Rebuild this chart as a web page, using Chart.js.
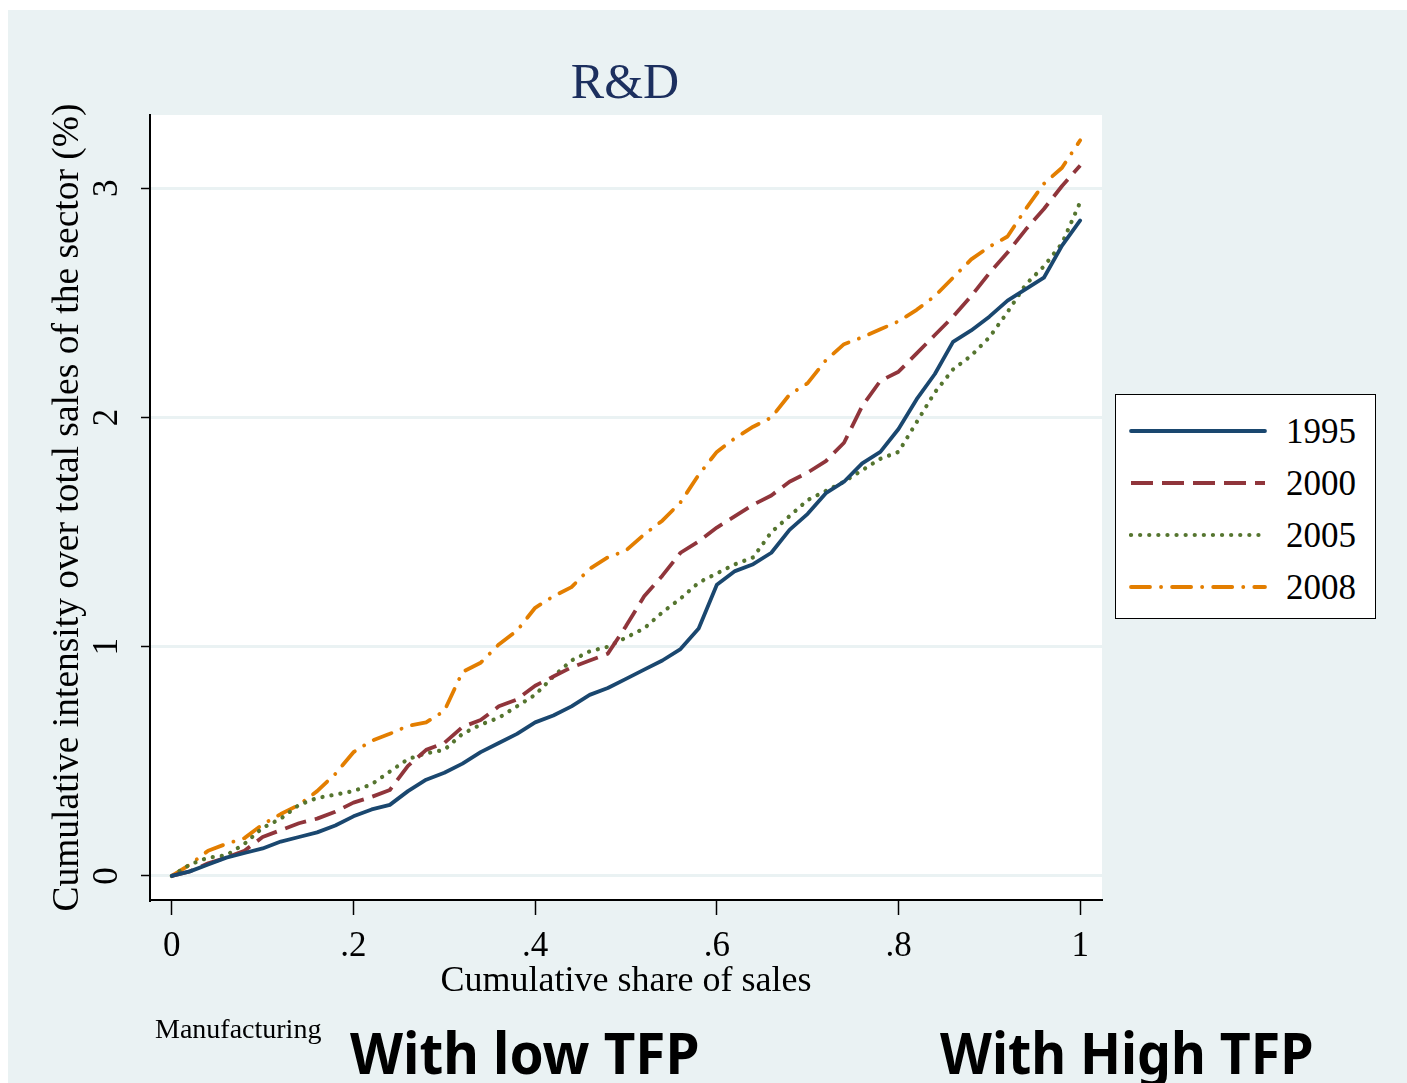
<!DOCTYPE html>
<html>
<head>
<meta charset="utf-8">
<title>R&amp;D</title>
<script src="https://cdn.jsdelivr.net/npm/chart.js@4.4.1/dist/chart.umd.min.js"></script>
<style>
  html, body { margin: 0; padding: 0; background: #fff; }
  #wrap { position: relative; width: 1407px; height: 1083px; overflow: hidden; }
  #chart { position: absolute; left: 0; top: 0; }
  .serif { font-family: 'Liberation Serif', 'Times New Roman', serif; }
  #title { position: absolute; left: 0; width: 1250px; top: 56px; text-align: center;
           font-size: 50px; line-height: 1; color: #1c2f5e; }
  #legend { position: absolute; left: 1115px; top: 394px; width: 259px; height: 223px;
            border: 1.5px solid #000; background: #fff; }
  #legend .row { position: absolute; left: 0; height: 40px; display: flex; align-items: center; }
  #legend svg { margin-left: 13px; }
  #legend span { margin-left: 19px; font-size: 35px; line-height: 1; color: #000; }
  .note { position: absolute; line-height: 1; color: #000; white-space: nowrap; }
  #manu { left: 155px; top: 1015px; font-size: 28px; }
  .big { font-family: 'Noto Sans', 'Open Sans', sans-serif; font-weight: 700; font-size: 58px;
         top: 1023px; transform-origin: left top; }
  #low { left: 350px; transform: scaleX(0.945); }
  #high { left: 940px; transform: scaleX(0.925); }
</style>
</head>
<body>
<div id="wrap">
  <canvas id="chart" width="1407" height="1083"></canvas>
  <div id="title" class="serif">R&amp;D</div>
  <div id="legend" class="serif"></div>
  <div id="manu" class="note serif">Manufacturing</div>
  <div id="low" class="note big">With low TFP</div>
  <div id="high" class="note big">With High TFP</div>
</div>
<script>
// cumulative share of sales (x)
const shares = [0, 0.02, 0.04, 0.06, 0.08, 0.10, 0.12, 0.14, 0.16, 0.18,
  0.20, 0.22, 0.24, 0.26, 0.28, 0.30, 0.32, 0.34, 0.36, 0.38,
  0.40, 0.42, 0.44, 0.46, 0.48, 0.50, 0.52, 0.54, 0.56, 0.58,
  0.60, 0.62, 0.64, 0.66, 0.68, 0.70, 0.72, 0.74, 0.76, 0.78,
  0.80, 0.82, 0.84, 0.86, 0.88, 0.90, 0.92, 0.94, 0.96, 0.98, 1.00];

// cumulative R&D intensity (%) per year
const y1995 = [0, 0.02, 0.05, 0.08, 0.10, 0.12, 0.15, 0.17, 0.19, 0.22,
  0.26, 0.29, 0.31, 0.37, 0.42, 0.45, 0.49, 0.54, 0.58, 0.62,
  0.67, 0.70, 0.74, 0.79, 0.82, 0.86, 0.90, 0.94, 0.99, 1.08,
  1.27, 1.33, 1.36, 1.41, 1.51, 1.58, 1.67, 1.72, 1.80, 1.85,
  1.95, 2.08, 2.19, 2.33, 2.38, 2.44, 2.51, 2.56, 2.61, 2.75, 2.86];

const y2000 = [0, 0.02, 0.055, 0.08, 0.11, 0.17, 0.20, 0.23, 0.25, 0.28,
  0.32, 0.345, 0.375, 0.48, 0.55, 0.58, 0.65, 0.68, 0.74, 0.77,
  0.83, 0.87, 0.91, 0.94, 0.97, 1.09, 1.22, 1.31, 1.41, 1.46,
  1.52, 1.57, 1.62, 1.66, 1.72, 1.76, 1.81, 1.89, 2.05, 2.16,
  2.20, 2.28, 2.36, 2.44, 2.53, 2.63, 2.72, 2.82, 2.91, 3.01, 3.10];

const y2005 = [0, 0.05, 0.08, 0.09, 0.14, 0.21, 0.25, 0.31, 0.34, 0.355,
  0.37, 0.40, 0.455, 0.51, 0.535, 0.55, 0.62, 0.66, 0.69, 0.74,
  0.79, 0.87, 0.94, 0.98, 1.00, 1.04, 1.08, 1.15, 1.21, 1.28,
  1.32, 1.36, 1.39, 1.50, 1.57, 1.64, 1.68, 1.72, 1.77, 1.82,
  1.85, 1.98, 2.11, 2.21, 2.27, 2.35, 2.46, 2.58, 2.66, 2.76, 2.94];

const y2008 = [0, 0.05, 0.11, 0.14, 0.165, 0.225, 0.27, 0.31, 0.37, 0.445,
  0.54, 0.59, 0.62, 0.655, 0.67, 0.72, 0.89, 0.93, 1.01, 1.07,
  1.17, 1.22, 1.26, 1.34, 1.39, 1.42, 1.49, 1.55, 1.63, 1.75,
  1.85, 1.91, 1.96, 2.00, 2.10, 2.15, 2.25, 2.32, 2.35, 2.385,
  2.42, 2.47, 2.53, 2.61, 2.69, 2.745, 2.79, 2.91, 3.02, 3.09, 3.21];

const years = ['1995', '2000', '2005', '2008'];
const colors = ['#1a476f', '#90353b', '#55752f', '#e37e00'];
const dashes = [[], [22, 9], [0.1, 9], [19, 11, 0.1, 11]];
const caps = ['round', 'butt', 'round', 'round'];
const widths = [3.8, 3.8, 4.2, 3.8];
const values = [y1995, y2000, y2005, y2008];

const xTicks = [0, 0.2, 0.4, 0.6, 0.8, 1];
const xTickLabels = ['0', '.2', '.4', '.6', '.8', '1'];

const serif = "'Liberation Serif', 'Times New Roman', serif";
const bgColor = '#eaf2f3';

const bgPlugin = {
  id: 'bg',
  beforeDraw(chart) {
    const { ctx, chartArea: a, width, height } = chart;
    ctx.save();
    ctx.fillStyle = '#ffffff';
    ctx.fillRect(0, 0, width, height);
    ctx.fillStyle = bgColor;
    ctx.fillRect(8, 10, width - 8, height - 10);
    ctx.fillStyle = '#ffffff';
    ctx.fillRect(a.left, a.top, a.right - a.left, a.bottom - a.top);
    ctx.restore();
  }
};

const datasets = years.map((yr, i) => ({
  label: yr,
  data: shares.map((s, j) => ({ x: s, y: values[i][j] })),
  borderColor: colors[i],
  borderWidth: widths[i],
  borderDash: dashes[i],
  borderCapStyle: caps[i],
  borderJoinStyle: 'round',
  pointRadius: 0,
  tension: 0,
  fill: false
}));

new Chart(document.getElementById('chart').getContext('2d'), {
  type: 'line',
  data: { datasets },
  plugins: [bgPlugin],
  options: {
    responsive: false,
    animation: false,
    devicePixelRatio: 1,
    layout: { padding: { left: 0, right: 305, top: 115, bottom: 0 } },
    plugins: { legend: { display: false }, tooltip: { enabled: false }, title: { display: false } },
    scales: {
      x: {
        type: 'linear',
        min: -0.024,
        max: 1.024,
        afterFit(s) { s.height = 183; },
        afterBuildTicks(s) { s.ticks = xTicks.map(v => ({ value: v })); },
        ticks: {
          color: '#000',
          padding: 11,
          font: { family: serif, size: 35 },
          callback: v => xTickLabels[xTicks.findIndex(t => Math.abs(t - v) < 1e-6)]
        },
        grid: { drawOnChartArea: false, tickColor: '#000', tickLength: 15, tickWidth: 1.5 },
        border: { color: '#000', width: 2 },
        title: {
          display: true,
          text: 'Cumulative share of sales',
          color: '#000',
          font: { family: serif, size: 36 },
          padding: { top: 0, bottom: 80 }
        }
      },
      y: {
        type: 'linear',
        min: -0.105,
        max: 3.32,
        afterFit(s) { s.width = 150; },
        ticks: {
          stepSize: 1,
          includeBounds: false,
          minRotation: 90,
          maxRotation: 90,
          crossAlign: 'center',
          padding: 24,
          color: '#000',
          font: { family: serif, size: 35 }
        },
        grid: { color: bgColor, lineWidth: 3, tickColor: '#000', tickLength: 9, tickWidth: 1.5 },
        border: { color: '#000', width: 2 },
        title: {
          display: true,
          text: 'Cumulative intensity over total sales of the sector (%)',
          color: '#000',
          font: { family: serif, size: 37.5 },
          padding: { top: 46, bottom: 0 }
        }
      }
    }
  }
});

// legend box
const legend = document.getElementById('legend');
const rowCenters = [36, 88, 140, 192];
years.forEach((yr, i) => {
  const row = document.createElement('div');
  row.className = 'row';
  row.style.top = (rowCenters[i] - 20) + 'px';
  const dash = dashes[i].length ? dashes[i].join(' ') : 'none';
  row.innerHTML =
    `<svg width="138" height="10"><line x1="2" y1="5" x2="136" y2="5" stroke="${colors[i]}"` +
    ` stroke-width="${widths[i]}" stroke-dasharray="${dash}" stroke-linecap="${caps[i]}"/></svg>` +
    `<span>${yr}</span>`;
  legend.appendChild(row);
});
</script>
</body>
</html>
